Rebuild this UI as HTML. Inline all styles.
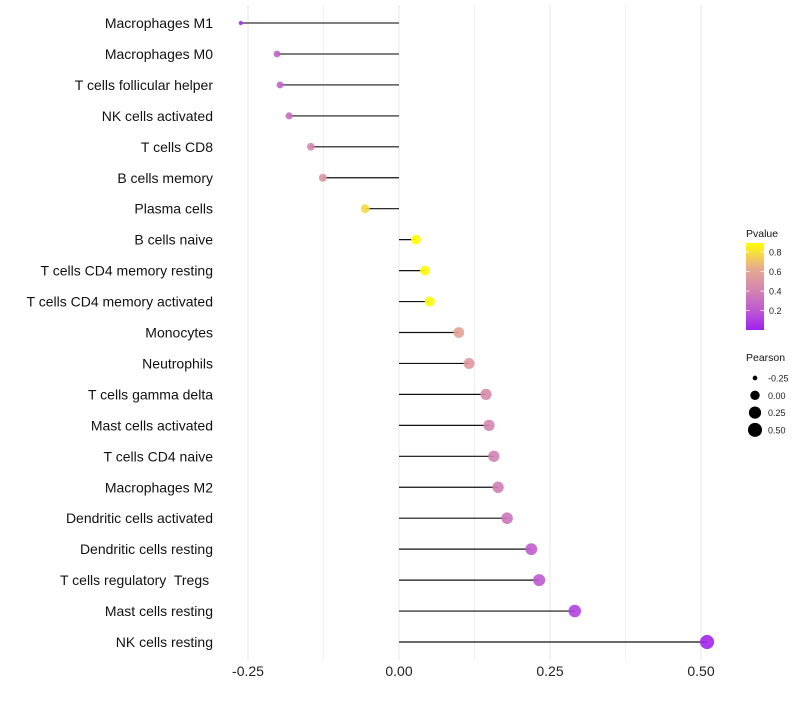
<!DOCTYPE html>
<html><head><meta charset="utf-8"><style>
body{margin:0;background:#fff;font-family:"Liberation Sans",sans-serif}
text{white-space:pre}
</style></head><body>
<svg id="c" width="800" height="700" xmlns="http://www.w3.org/2000/svg"></svg>
<script>
const categories=["Macrophages M1","Macrophages M0","T cells follicular helper","NK cells activated","T cells CD8","B cells memory","Plasma cells","B cells naive","T cells CD4 memory resting","T cells CD4 memory activated","Monocytes","Neutrophils","T cells gamma delta","Mast cells activated","T cells CD4 naive","Macrophages M2","Dendritic cells activated","Dendritic cells resting","T cells regulatory  Tregs ","Mast cells resting","NK cells resting"];
const pearson=[-0.262,-0.202,-0.197,-0.182,-0.146,-0.126,-0.056,0.028,0.043,0.051,0.099,0.116,0.144,0.149,0.157,0.164,0.179,0.219,0.232,0.291,0.51];
const pvalues=[0.03,0.24,0.24,0.3,0.42,0.5,0.78,0.9,0.87,0.87,0.58,0.52,0.45,0.42,0.4,0.38,0.33,0.22,0.2,0.12,0.02];
const xTicks=[-0.25,0,0.25,0.5];
const xTickLabels=["-0.25","0.00","0.25","0.50"];
const pTicks=[0.2,0.4,0.6,0.8];
const sizeLegend=[-0.25,0,0.25,0.5];
const NS="http://www.w3.org/2000/svg";
const svg=document.getElementById('c');
function x(v){return 399+v*604;}
function y(i){return 23+i*30.95;}
const rk=[[-0.27,1.9],[-0.2,3.4],[-0.13,4],[0,4.7],[0.1,5.4],[0.25,6.1],[0.52,7.1]];
function r(v){for(let i=0;i<rk.length-1;i++){if(v<=rk[i+1][0]){const t=Math.max(0,(v-rk[i][0])/(rk[i+1][0]-rk[i][0]));return rk[i][1]+t*(rk[i+1][1]-rk[i][1]);}}return 7.1;}
function lerp(a,b,t){return a.map((c,i)=>Math.round(c+(b[i]-c)*t));}
const stops=[[0,[160,32,240]],[0.2,[190,90,210]],[0.45,[215,140,170]],[0.65,[235,175,140]],[0.89,[255,255,0]]];
function col(p){p=Math.max(0,Math.min(0.89,p));for(let i=0;i<stops.length-1;i++){if(p<=stops[i+1][0]){const t=(p-stops[i][0])/(stops[i+1][0]-stops[i][0]);const c=lerp(stops[i][1],stops[i+1][1],t);return `rgb(${c[0]},${c[1]},${c[2]})`;}}return 'rgb(255,255,0)';}
function el(t,a,txt){const e=document.createElementNS(NS,t);for(const k in a)e.setAttribute(k,a[k]);if(txt!==undefined)e.textContent=txt;svg.appendChild(e);return e;}
[-0.125,0.125,0.375].forEach(v=>{const g=el('line',{x1:x(v),x2:x(v),y1:5,y2:660,stroke:'#f0f0f0','stroke-width':1});

});
xTicks.forEach((v,i)=>{const g=el('line',{x1:x(v),x2:x(v),y1:5,y2:660,stroke:'#ebebeb','stroke-width':1.2});


const t=el('text',{x:x(v),y:676,'text-anchor':'middle','font-size':14,fill:'#222'},xTickLabels[i]);

});
categories.forEach((c,i)=>{
const t=el('text',{x:213,y:y(i)+5,'text-anchor':'end','font-size':14,fill:'#111'},c);


const l=el('line',{x1:x(0),x2:x(pearson[i]),y1:y(i),y2:y(i),stroke:pearson[i]<-0.17?'#555':'#111','stroke-width':pearson[i]<-0.17?1.5:1.2});


const d=el('circle',{cx:x(pearson[i]),cy:y(i),r:r(pearson[i]),fill:col(pvalues[i]),'fill-opacity':0.9});


});
const defs=el('defs',{});
const lg=document.createElementNS(NS,'linearGradient');lg.setAttribute('id','pg');lg.setAttribute('x1','0');lg.setAttribute('x2','0');lg.setAttribute('y1','1');lg.setAttribute('y2','0');defs.appendChild(lg);
for(let k=0;k<=10;k++){const s=document.createElementNS(NS,'stop');s.setAttribute('offset',k/10);s.setAttribute('stop-color',col(0.89*k/10));lg.appendChild(s);}
let t=el('text',{x:746,y:237,'font-size':10.5,fill:'#111'},'Pvalue');

const bar=el('rect',{x:746,y:243,width:18,height:87,fill:'url(#pg)'});

pTicks.forEach(p=>{const yy=330-p*97.3;el('line',{x1:746,x2:749.5,y1:yy,y2:yy,stroke:'#fff','stroke-width':0.8});el('line',{x1:760.5,x2:764,y1:yy,y2:yy,stroke:'#fff','stroke-width':0.8});
const tt=el('text',{x:769,y:yy+3.5,'font-size':9,fill:'#222'},p.toFixed(1));
});
t=el('text',{x:746,y:361,'font-size':10.5,fill:'#111'},'Pearson');

sizeLegend.forEach((v,i)=>{const yy=378+i*17.3;const c=el('circle',{cx:755,cy:yy,r:r(v),fill:'#000'});

const tt=el('text',{x:768,y:yy+3.5,'font-size':9,fill:'#222'},v.toFixed(2));
});
</script>
</body></html>
